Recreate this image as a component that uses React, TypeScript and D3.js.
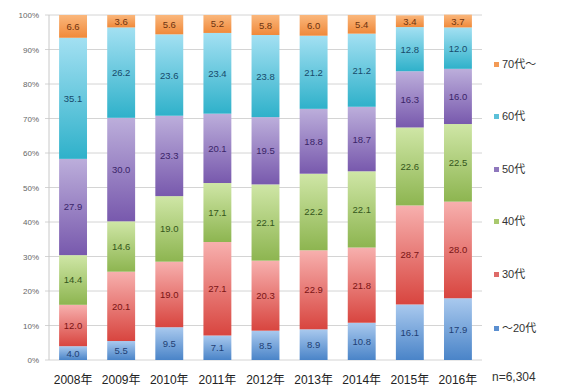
import React from "react";
import * as d3 from "d3";

const years = ["2008年", "2009年", "2010年", "2011年", "2012年", "2013年", "2014年", "2015年", "2016年"];
const seriesNames = ["～20代", "30代", "40代", "50代", "60代", "70代～"];

const age20 = [4.0, 5.5, 9.5, 7.1, 8.5, 8.9, 10.8, 16.1, 17.9];
const age30 = [12.0, 20.1, 19.0, 27.1, 20.3, 22.9, 21.8, 28.7, 28.0];
const age40 = [14.4, 14.6, 19.0, 17.1, 22.1, 22.2, 22.1, 22.6, 22.5];
const age50 = [27.9, 30.0, 23.3, 20.1, 19.5, 18.8, 18.7, 16.3, 16.0];
const age60 = [35.1, 26.2, 23.6, 23.4, 23.8, 21.2, 21.2, 12.8, 12.0];
const age70 = [6.6, 3.6, 5.6, 5.2, 5.8, 6.0, 5.4, 3.4, 3.7];

const yTicks = [0, 10, 20, 30, 40, 50, 60, 70, 80, 90, 100];
const sampleNote = "n=6,304";

const values = [age20, age30, age40, age50, age60, age70];

// light (top) / dark (bottom) gradient stops, label ink, legend swatch
const palette = [
  { top: "#a9c9ee", bottom: "#4a84c8", ink: "#1f3f74", swatch: "#5b8fd0" },
  { top: "#f7b0ae", bottom: "#d8453f", ink: "#7a1414", swatch: "#de6a68" },
  { top: "#cfe6a6", bottom: "#8db550", ink: "#34561a", swatch: "#a9c96e" },
  { top: "#bcaedb", bottom: "#7859ad", ink: "#3a2468", swatch: "#8f78bd" },
  { top: "#a3e0f2", bottom: "#2fb1ca", ink: "#174a6a", swatch: "#5cc0d8" },
  { top: "#fab77c", bottom: "#f0893a", ink: "#6d3310", swatch: "#f39a55" },
];

const W = 576;
const H = 388;
const plot = { left: 49, right: 482, top: 15, bottom: 360 };

export default function App() {
  const x = d3.scaleBand<string>().domain(years).range([plot.left, plot.right]).paddingInner(0.42).paddingOuter(0.21);
  const y = d3.scaleLinear().domain([0, 100]).range([plot.bottom, plot.top]);

  const rows = years.map((yr, i) => {
    const r: Record<string, number | string> = { year: yr };
    seriesNames.forEach((s, k) => (r[s] = values[k][i]));
    return r;
  });
  const stacked = d3.stack<Record<string, number | string>>().keys(seriesNames)(rows as any);

  const font = "'Liberation Sans', 'Noto Sans CJK JP', sans-serif";
  const legendY = [332, 278, 225, 173, 120, 68];

  return (
    <svg width={W} height={H} style={{ position: "absolute", left: 0, top: 0, background: "#fff" }} fontFamily={font}>
      <defs>
        {palette.map((p, k) => (
          <linearGradient key={k} id={`g${k}`} x1="0" y1="0" x2="0" y2="1">
            <stop offset="0%" stopColor={p.top} />
            <stop offset="100%" stopColor={p.bottom} />
          </linearGradient>
        ))}
      </defs>

      {/* gridlines and y axis labels */}
      {yTicks.map((t) => (
        <g key={t}>
          <line x1={plot.left - 4} x2={plot.right} y1={y(t)} y2={y(t)} stroke="#d4d4d4" strokeWidth={1} />
          <text x={39} y={y(t) + 3} fontSize={8} fill="#666" textAnchor="end">
            {t}%
          </text>
        </g>
      ))}
      <line x1={plot.left} x2={plot.left} y1={plot.top} y2={plot.bottom} stroke="#c8c8c8" />

      {/* stacked bars */}
      {stacked.map((layer, k) =>
        layer.map((d, i) => {
          const x0 = x(years[i])!;
          const y0 = y(d[1]);
          const h = y(d[0]) - y(d[1]);
          const v = values[k][i];
          return (
            <g key={`${k}-${i}`}>
              <rect x={x0} y={y0} width={x.bandwidth()} height={h} fill={`url(#g${k})`} />
              <text
                x={x0 + x.bandwidth() / 2}
                y={y0 + h / 2 + 3.5}
                fontSize={9.5}
                fill={palette[k].ink}
                textAnchor="middle"
              >
                {v.toFixed(1)}
              </text>
            </g>
          );
        })
      )}

      {/* x axis labels */}
      {years.map((yr) => (
        <text key={yr} x={x(yr)! + x.bandwidth() / 2} y={384} fontSize={12} fill="#222" textAnchor="middle">
          {yr}
        </text>
      ))}

      {/* legend */}
      {seriesNames.map((s, k) => (
        <g key={s}>
          <rect x={494} y={legendY[k] - 6} width={5} height={5} fill={palette[k].swatch} />
          <text x={502} y={legendY[k]} fontSize={11} fill="#333">
            {s}
          </text>
        </g>
      ))}
      <text x={492} y={381} fontSize={12} fill="#333">
        {sampleNote}
      </text>
    </svg>
  );
}
